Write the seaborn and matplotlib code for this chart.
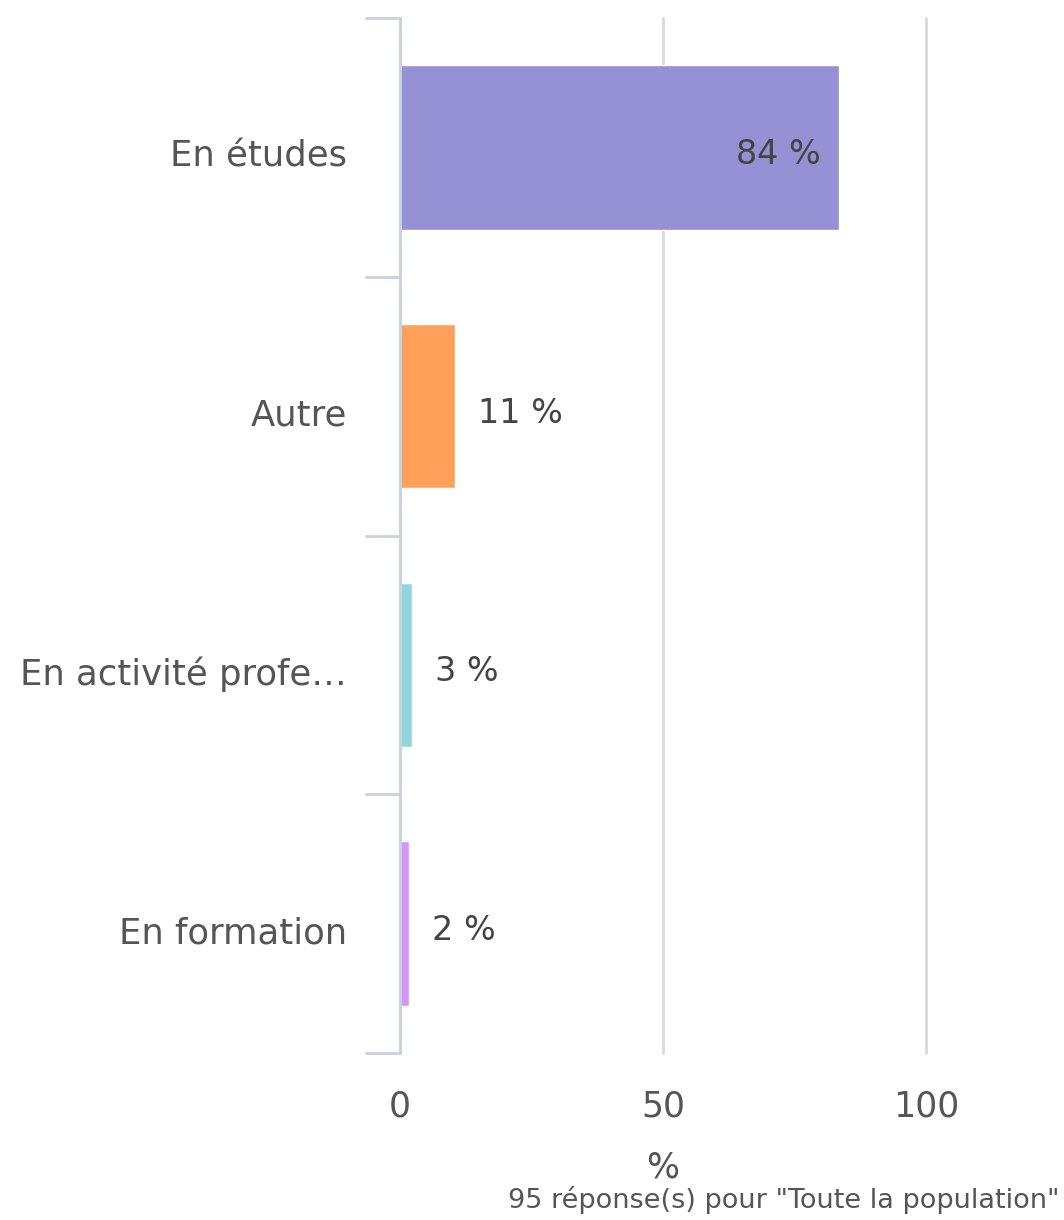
import numpy as np
import pandas as pd
import seaborn as sns
import matplotlib.pyplot as plt
import matplotlib.transforms as mtransforms

# Data
categories = ["En études", "Autre", "En activité profe…", "En formation"]
values = [83.4, 10.5, 2.3, 1.7]
value_labels = ["84 %", "11 %", "3 %", "2 %"]
colors = ["#9690d4", "#ffa05a", "#94d5db", "#d894fb"]
caption = '95 réponse(s) pour "Toute la population"'

df = pd.DataFrame({"statut": categories, "pct": values})

sns.set_style("white")
plt.rcParams['font.family'] = ['DejaVu Sans']

fig = plt.figure(figsize=(10.64, 12.2), dpi=100)
ax = fig.add_axes([400 / 1064, 1 - 1053 / 1220, 526 / 1064, 1035 / 1220])

sns.barplot(data=df, y="statut", x="pct", hue="statut", palette=colors,
            order=categories, hue_order=categories, width=0.635,
            legend=False, ax=ax, saturation=1)

ax.set_xlim(0, 100)
ax.set_ylim(3.5, -0.5)
ax.set_xticks([0, 50, 100])
ax.xaxis.grid(True, color="#d9d9d9", linewidth=2)
for gl in ax.get_xgridlines():
    gl.set_clip_on(False)
ax.set_axisbelow(True)

for side in ["top", "right", "bottom"]:
    ax.spines[side].set_visible(False)
ax.spines["left"].set_color("#c5d3e5")
ax.spines["left"].set_linewidth(2)

# category boundary ticks
ax.set_yticks(np.arange(-0.5, len(categories)), minor=True)
ax.tick_params(axis="y", which="minor", left=True, length=25, width=2, color="#c5d3e5")
ax.tick_params(axis="y", which="major", length=0, pad=38, labelsize=25.5, labelcolor="#555555")
ax.tick_params(axis="x", length=0, pad=26, labelsize=25, labelcolor="#555555")

# text in the reference sits a little below the bar centres
shift = mtransforms.ScaledTranslation(0, -6 / 100, fig.dpi_scale_trans)
for t in ax.get_yticklabels():
    t.set_transform(t.get_transform() + shift)

ax.set_ylabel("")
ax.set_xlabel("%", fontsize=25, color="#555555", labelpad=20)

# value labels
for i, (v, lab) in enumerate(zip(values, value_labels)):
    if v > 50:
        ax.annotate(lab, (v, i), xytext=(-13, -5), textcoords="offset points",
                    ha="right", va="center", fontsize=24, color="#444444")
    else:
        ax.annotate(lab, (v, i), xytext=(16.5, -5), textcoords="offset points",
                    ha="left", va="center", fontsize=24, color="#444444")

fig.text(1060 / 1064, 1 - 1200 / 1220, caption, ha="right", va="center",
         fontsize=19.5, color="#555555")

fig.savefig("out.png", dpi=100)
